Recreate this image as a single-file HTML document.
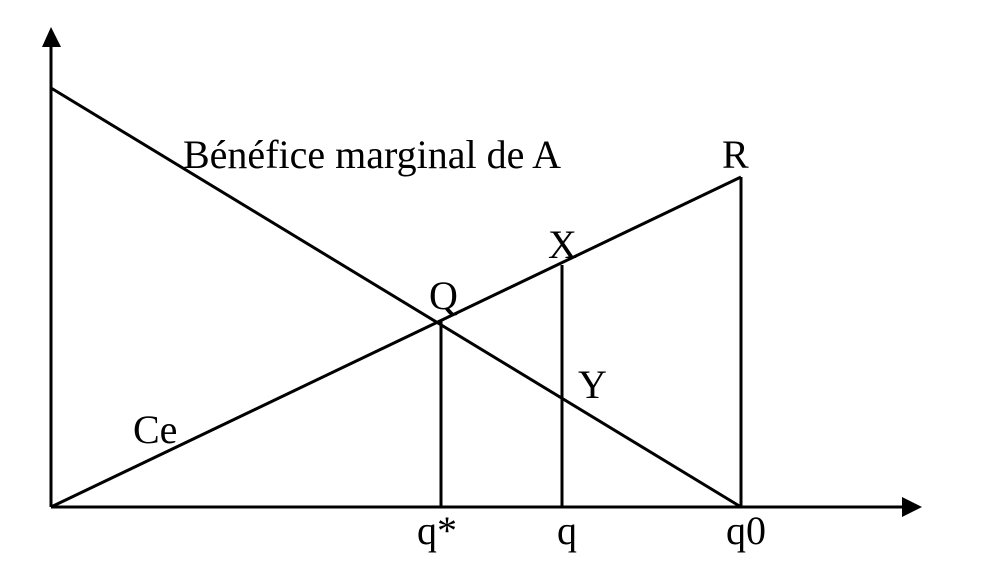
<!DOCTYPE html>
<html><head><meta charset="utf-8"><style>html,body{margin:0;padding:0;background:#fff}</style></head>
<body>
<svg width="997" height="566" viewBox="0 0 997 566" xmlns="http://www.w3.org/2000/svg">
<g stroke="#000" stroke-width="3" fill="none">
<line x1="51" y1="507" x2="51" y2="44"/>
<line x1="51" y1="507" x2="905" y2="507"/>
<line x1="51" y1="88" x2="741" y2="507"/>
<line x1="51" y1="507" x2="741" y2="177"/>
<line x1="741" y1="177" x2="741" y2="507"/>
<line x1="441" y1="321" x2="441" y2="507"/>
<line x1="562" y1="265" x2="562" y2="507"/>
</g>
<polygon points="51,27 42,47 61,47" fill="#000"/>
<polygon points="922,507 902,497 902,517" fill="#000"/>
<g font-family="Liberation Serif, serif" font-size="40" fill="#000">
<text x="183" y="168">Bénéfice marginal de A</text>
<text x="722" y="168">R</text>
<text x="548" y="258">X</text>
<text x="429" y="309">Q</text>
<text x="578" y="398">Y</text>
<text x="133" y="443">Ce</text>
<text x="417" y="544">q*</text>
<text x="557" y="544">q</text>
<text x="726" y="544">q0</text>
</g>
</svg>
</body></html>
